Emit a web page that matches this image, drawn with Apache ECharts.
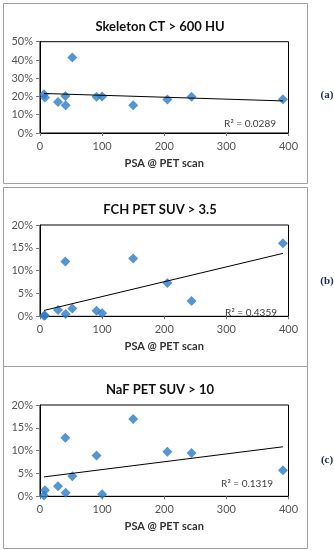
<!DOCTYPE html>
<html>
<head>
<meta charset="utf-8">
<script src="https://cdn.jsdelivr.net/npm/echarts@6/dist/echarts.min.js"></script>
<style>
html,body{margin:0;padding:0;background:#fff;}
#c{width:334px;height:550px;}
</style>
</head>
<body>
<div id="c"></div>
<script>
// ---- data ----
const psa = [6.4, 8, 29, 40.8, 41.3, 52, 91, 100, 150, 205, 244, 391];
const skeletonCT = [21.2, 19.4, 17.0, 20.3, 15.2, 41.4, 19.8, 20.0, 15.2, 18.3, 19.8, 18.5];
const fchPET = [0.1, 0.2, 1.4, 12.0, 0.5, 1.7, 1.2, 0.65, 12.65, 7.3, 3.35, 16.0];
const nafPET = [0.15, 1.3, 2.2, 12.8, 0.8, 4.4, 8.95, 0.45, 16.95, 9.75, 9.5, 5.7];
const titles = ['Skeleton CT > 600 HU', 'FCH PET SUV > 3.5', 'NaF PET SUV > 10'];
const r2Labels = ['R² = 0.0289', 'R² = 0.4359', 'R² = 0.1319'];
const panelTags = ['(a)', '(b)', '(c)'];
const yMax = [50, 20, 20];
const yStep = [10, 5, 5];
const xTicks = [0, 100, 200, 300, 400];
const xName = 'PSA @ PET scan';

function fit(xs, ys) {
  const n = xs.length;
  const mx = xs.reduce((a, b) => a + b, 0) / n;
  const my = ys.reduce((a, b) => a + b, 0) / n;
  let sxy = 0, sxx = 0;
  for (let i = 0; i < n; i++) { sxy += (xs[i] - mx) * (ys[i] - my); sxx += (xs[i] - mx) ** 2; }
  const b = sxy / sxx, a = my - b * mx;
  const x0 = Math.min(...xs), x1 = Math.max(...xs);
  return [[x0, a + b * x0], [x1, a + b * x1]];
}

const seriesY = [skeletonCT, fchPET, nafPET];
const FONT = 'Lato';
const gridTops = [41.7, 225, 405];
const gridH = 91.3;
const boxes = [[3, 3, 304, 180], [3, 187, 304, 179], [3, 366, 304, 182]];
const tagY = [95, 281, 460];
const r2Pos = [[276, 124], [277, 312.5], [273, 484]];
const titleY = [22, 205, 385];

const grids = [], xAxes = [], yAxes = [], series = [], titleArr = [], graphics = [];
for (let k = 0; k < 3; k++) {
  grids.push({left: 40, width: 248.5, top: gridTops[k], height: gridH, show: true,
    borderColor: '#000', borderWidth: 1, backgroundColor: 'transparent'});
  xAxes.push({gridIndex: k, type: 'value', min: xTicks[0], max: xTicks[xTicks.length - 1], interval: 100,
    name: xName, nameLocation: 'middle', nameGap: 25,
    nameTextStyle: {fontFamily: FONT, fontSize: 11, fontWeight: 'bold', color: '#333'},
    axisLine: {show: true, lineStyle: {color: '#000', width: 1}},
    axisTick: {show: true, inside: false, length: 3, lineStyle: {color: '#777'}},
    axisLabel: {fontFamily: FONT, fontSize: 11, color: '#555', margin: 8},
    splitLine: {show: false}});
  yAxes.push({gridIndex: k, type: 'value', min: 0, max: yMax[k], interval: yStep[k],
    axisLine: {show: true, lineStyle: {color: '#000', width: 1}},
    axisTick: {show: true, inside: false, length: 4, lineStyle: {color: '#777'}},
    axisLabel: {fontFamily: FONT, fontSize: 11, color: '#555', margin: 7, formatter: '{value}%'},
    splitLine: {show: false}});
  series.push({type: 'scatter', xAxisIndex: k, yAxisIndex: k, symbol: 'diamond', symbolSize: 10,
    itemStyle: {color: '#2a7bc6'}, data: psa.map((x, i) => [x, seriesY[k][i]]), z: 3});
  series.push({type: 'line', xAxisIndex: k, yAxisIndex: k, symbol: 'none',
    lineStyle: {color: '#000', width: 1}, data: fit(psa, seriesY[k]), z: 4, silent: true});
  titleArr.push({text: titles[k], left: 155, top: titleY[k], textAlign: 'center', textVerticalAlign: 'middle',
    textStyle: {fontFamily: FONT, fontSize: 13, fontWeight: 'bold', color: '#111'}});
  graphics.push({type: 'rect', shape: {x: boxes[k][0] + 0.5, y: boxes[k][1] + 0.5, width: boxes[k][2], height: boxes[k][3]},
    style: {fill: 'none', stroke: '#a0a0a0', lineWidth: 1}, z: -1});
  graphics.push({type: 'text', x: 327, y: tagY[k],
    style: {text: panelTags[k], fill: '#1c2d4f', font: 'bold 11px "Liberation Serif"', align: 'center', verticalAlign: 'middle'}});
  graphics.push({type: 'text', x: r2Pos[k][0], y: r2Pos[k][1],
    style: {text: r2Labels[k], fill: '#404040', font: '10px ' + FONT, align: 'right', verticalAlign: 'middle'}});
}

const chart = echarts.init(document.getElementById('c'), null, {renderer: 'canvas'});
chart.setOption({
  animation: false,
  title: titleArr,
  grid: grids,
  xAxis: xAxes,
  yAxis: yAxes,
  series: series,
  graphic: graphics
});
</script>
</body>
</html>
